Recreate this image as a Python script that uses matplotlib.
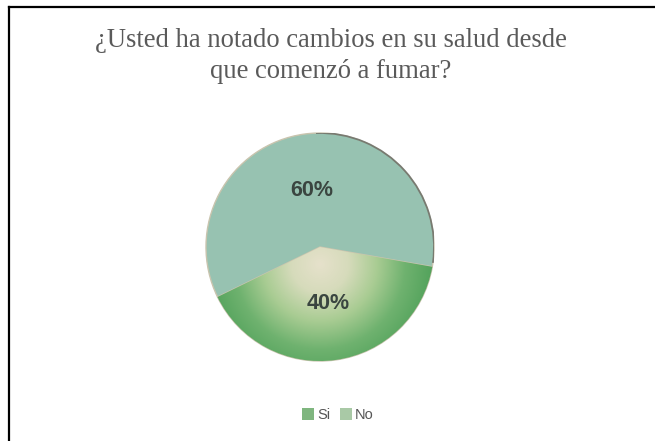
import numpy as np
import matplotlib
matplotlib.use("Agg")
import matplotlib.pyplot as plt
from matplotlib.patches import Patch, Arc
from matplotlib.lines import Line2D
from matplotlib.colors import LinearSegmentedColormap

# survey answers
labels = ["Si", "No"]
shares = [40, 60]
title_lines = ["¿Usted ha notado cambios en su salud desde", "que comenzó a fumar?"]

W, H = 655, 441
fig = plt.figure(figsize=(W / 100, H / 100), dpi=100)

# frame lines (top and left)
fig.add_artist(Line2D([9 / W, 1], [1 - 7 / H, 1 - 7 / H], color="black", lw=1.6, transform=fig.transFigure))
fig.add_artist(Line2D([9 / W, 9 / W], [0, 1 - 7 / H], color="black", lw=1.6, transform=fig.transFigure))

# title
fig.text(331 / W, 1 - 47 / H, title_lines[0], ha="center", va="baseline",
         family="Liberation Serif", fontsize=19.2, color="#5a5a5a")
fig.text(331 / W, 1 - 78 / H, title_lines[1], ha="center", va="baseline",
         family="Liberation Serif", fontsize=19.2, color="#5a5a5a")

# pie area
cx, cy, r = 320, 247, 114
ax = fig.add_axes([(cx - r) / W, (H - cy - r) / H, 2 * r / W, 2 * r / H])

teal = "#97c2b1"
wedges, texts, autotexts = ax.pie(
    shares, radius=1.0, startangle=-154, counterclock=True,
    colors=["#8cbf86", teal], autopct="%d%%", pctdistance=0.5,
    wedgeprops=dict(edgecolor="#c9c4ae", linewidth=1.0),
    textprops=dict(fontsize=15.5, fontweight="bold", family="Liberation Sans", color="#3a4540"),
)
for t in texts:
    t.set_text("")
ax.set_xlim(-1, 1)
ax.set_ylim(-1, 1)
ax.set_aspect("equal")
ax.axis("off")

# radial shading on the "Si" slice
xs = np.linspace(-1, 1, 400)
X, Y = np.meshgrid(xs, xs)
d = np.sqrt((X - 0.0) ** 2 + (Y + 0.15) ** 2)
shade = LinearSegmentedColormap.from_list("shade", ["#e6e1cb", "#d6dbbb", "#a9cc93", "#6fb26f", "#52a25b"])
img = ax.imshow(d, extent=(-1, 1, -1, 1), origin="lower", cmap=shade, vmin=0.0, vmax=1.0, zorder=1.5)
img.set_clip_path(wedges[0])
ax.set_xlim(-1, 1)
ax.set_ylim(-1, 1)
for at in autotexts:
    at.set_zorder(3)

# darker rim on the upper right
ax.add_patch(Arc((0, 0), 2.0, 2.0, theta1=-8, theta2=92, color="#5e625c", lw=1.3, alpha=0.75, zorder=2))

# legend
handles = [Patch(facecolor="#7fb67f", edgecolor="none"), Patch(facecolor="#a9c9a6", edgecolor="none")]
fig.legend(handles, labels, loc="center", bbox_to_anchor=(338 / W, 1 - 415 / H), ncol=2,
           frameon=False, handlelength=0.8, handleheight=0.8, handletextpad=0.2, columnspacing=0.7,
           prop=dict(family="Liberation Sans", size=10.5), labelcolor="#555555")

fig.savefig("out.png", dpi=100)
